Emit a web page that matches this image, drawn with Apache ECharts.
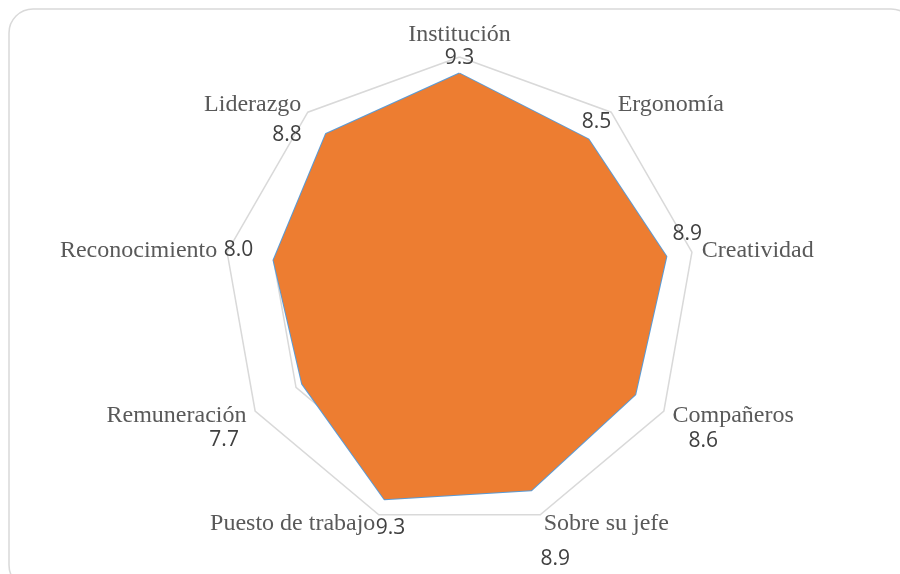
<!DOCTYPE html>
<html>
<head>
<meta charset="utf-8">
<script src="https://cdn.jsdelivr.net/npm/echarts@6/dist/echarts.min.js"></script>
<style>
html,body{margin:0;padding:0;background:#fff;}
#chart{width:900px;height:574px;}
</style>
</head>
<body>
<div id="chart"></div>
<script>
const categories = ['Institución', 'Ergonomía', 'Creatividad', 'Compañeros', 'Sobre su jefe', 'Puesto de trabajo', 'Remuneración', 'Reconocimiento', 'Liderazgo'];
const values = [9.3, 8.5, 8.9, 8.6, 8.9, 9.3, 7.7, 8.0, 8.8];
const axisMin = 0;
const axisMax = 10;
const ringCount = 5;

// label placement (style only): offsets of each value label from its point
const labelOffsets = [[0, -15.5], [8, -17], [21, -22.5], [68, 47], [24, 69], [6, 29], [-78, 56], [-35, -10], [-39, 1]];

// ECharts lays radar indicators counter-clockwise; reorder so the categories run clockwise
const order = categories.map(function (c, i) { return i === 0 ? 0 : categories.length - i; });
const radarNames = order.map(function (k) { return categories[k]; });
const radarValues = order.map(function (k) { return values[k]; });

const chart = echarts.init(document.getElementById('chart'), null, { renderer: 'canvas' });

const seriesData = [{
  value: radarValues,
  symbol: 'none',
  lineStyle: { color: '#5B9BD5', width: 2 },
  areaStyle: { color: '#ED7D31', opacity: 1 },
  itemStyle: { color: '#ED7D31' }
}];
order.forEach(function (k, d) {
  seriesData.push({
    value: radarValues,
    symbol: 'circle',
    symbolSize: 0,
    lineStyle: { opacity: 0, width: 0 },
    itemStyle: { color: 'transparent', borderWidth: 0 },
    label: {
      show: true,
      position: 'inside',
      offset: labelOffsets[k],
      color: '#404040',
      fontFamily: 'Open Sans',
      fontSize: 21,
      formatter: function (p) {
        return p.dimensionIndex === d ? values[k].toFixed(1) : '';
      }
    }
  });
});

chart.setOption({
  animation: false,
  backgroundColor: '#ffffff',
  graphic: [{
    type: 'rect',
    shape: { x: 9, y: 9, width: 906, height: 580, r: 24 },
    style: { fill: 'none', stroke: '#D9D9D9', lineWidth: 1.5 },
    z: -10
  }],
  radar: {
    center: [459.5, 293],
    radius: 236,
    startAngle: 90,
    shape: 'polygon',
    splitNumber: ringCount,
    axisNameGap: 10,
    axisName: {
      color: '#595959',
      fontFamily: 'Liberation Serif',
      fontSize: 24
    },
    indicator: radarNames.map(function (n) { return { name: n, min: axisMin, max: axisMax }; }),
    axisLine: { show: false },
    axisTick: { show: false },
    axisLabel: { show: false },
    splitArea: { show: false },
    splitLine: { lineStyle: { color: '#D9D9D9', width: 1.5 } }
  },
  series: [{
    type: 'radar',
    silent: true,
    data: seriesData
  }]
});
</script>
</body>
</html>
